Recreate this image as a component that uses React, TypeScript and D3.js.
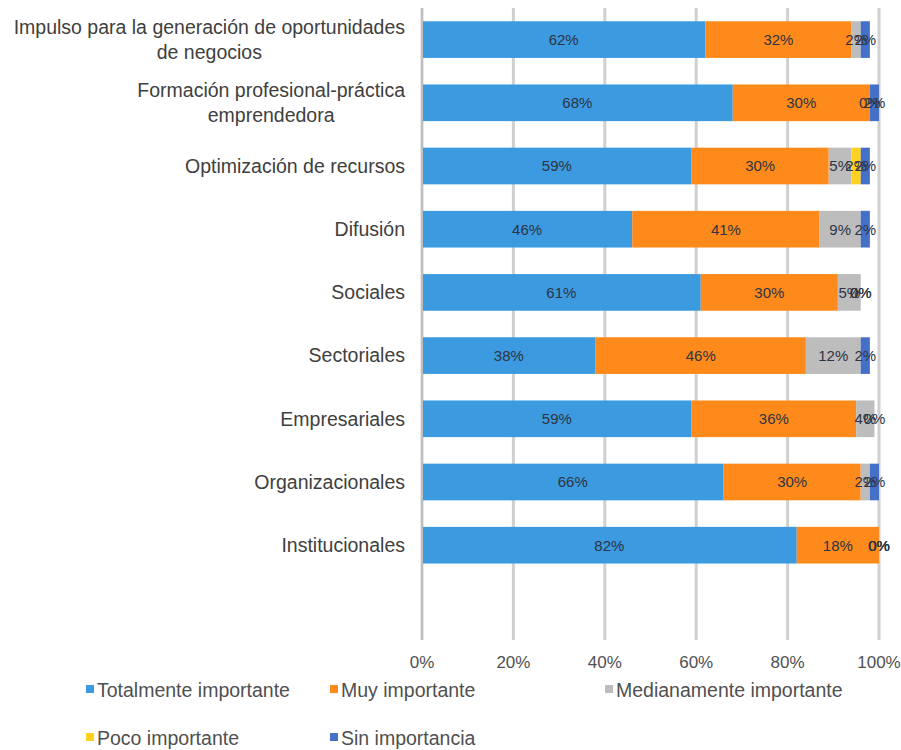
import React, { useEffect, useRef } from "react";
import * as d3 from "d3";

const categories: string[][] = [
  ["Impulso para la generación de oportunidades", "de negocios"],
  ["Formación profesional-práctica", "emprendedora"],
  ["Optimización de recursos"],
  ["Difusión"],
  ["Sociales"],
  ["Sectoriales"],
  ["Empresariales"],
  ["Organizacionales"],
  ["Institucionales"],
  [""],
];

const seriesNames = [
  "Totalmente importante",
  "Muy importante",
  "Medianamente importante",
  "Poco importante",
  "Sin importancia",
];

// null = empty cell (no bar, no label)
const totalmente: (number | null)[] = [62, 68, 59, 46, 61, 38, 59, 66, 82, null];
const muy: (number | null)[] = [32, 30, 30, 41, 30, 46, 36, 30, 18, null];
const mediana: (number | null)[] = [2, 0, 5, 9, 5, 12, 4, 2, 0, null];
const poco: (number | null)[] = [null, null, 2, null, 0, null, 0, null, 0, null];
const sin: (number | null)[] = [2, 2, 2, 2, 0, 2, null, 2, 0, null];

const tickValues = [0, 20, 40, 60, 80, 100];
const colors = ["#3C9AE0", "#FF8A1C", "#BDBDBD", "#FFD21F", "#4470C8"];

const FONT = "'Liberation Sans', Arial, sans-serif";

export default function App() {
  const ref = useRef<SVGSVGElement>(null);
  useEffect(() => {
    document.body.style.margin = "0";
    const svg = d3.select(ref.current);
    svg.selectAll("*").remove();
    const series = [totalmente, muy, mediana, poco, sin];
    const x0 = 422, x1 = 879, top = 8, bottom = 640;
    const x = d3.scaleLinear().domain([0, 100]).range([x0, x1]);
    const y = d3
      .scaleBand<number>()
      .domain(categories.map((_, i) => i))
      .range([top, bottom])
      .paddingInner(0.42)
      .paddingOuter(0.21);

    // grid
    svg
      .append("g")
      .selectAll("line")
      .data(tickValues)
      .join("line")
      .attr("x1", (d) => x(d))
      .attr("x2", (d) => x(d))
      .attr("y1", top)
      .attr("y2", bottom)
      .attr("stroke", "#D0D0D0")
      .attr("stroke-width", 3);

    // bars
    const gBars = svg.append("g");
    const labels: { x: number; y: number; t: string }[] = [];
    categories.forEach((_, ci) => {
      let acc = 0;
      series.forEach((s, si) => {
        const v = s[ci];
        if (v === null || v === undefined) return;
        const xs = x(acc), xe = x(acc + v);
        if (v > 0) {
          gBars
            .append("rect")
            .attr("x", xs)
            .attr("y", y(ci)!)
            .attr("width", xe - xs)
            .attr("height", y.bandwidth())
            .attr("fill", colors[si]);
        }
        labels.push({ x: (xs + xe) / 2, y: y(ci)! + y.bandwidth() / 2, t: v + "%" });
        acc += v;
      });
    });
    svg
      .append("g")
      .selectAll("text")
      .data(labels)
      .join("text")
      .attr("x", (d) => d.x)
      .attr("y", (d) => d.y)
      .attr("dy", "0.36em")
      .attr("text-anchor", "middle")
      .attr("font-family", FONT)
      .attr("font-size", 15)
      .attr("fill", "#2E3443")
      .text((d) => d.t);

    // y axis line
    svg
      .append("line")
      .attr("x1", x0)
      .attr("x2", x0)
      .attr("y1", top)
      .attr("y2", bottom)
      .attr("stroke", "#BFBFBF")
      .attr("stroke-width", 2);

    // category labels
    const gCat = svg.append("g");
    categories.forEach((lines, ci) => {
      const cy = y(ci)! + y.bandwidth() / 2;
      const t = gCat
        .append("text")
        .attr("font-family", FONT)
        .attr("font-size", 19.5)
        .attr("fill", "#404040")
        .attr("text-anchor", "middle");
      const lh = 25;
      const startY = cy - ((lines.length - 1) * lh) / 2;
      lines.forEach((ln, li) => {
        t.append("tspan")
          .attr("x", 0)
          .attr("y", startY + li * lh)
          .attr("dy", "0.35em")
          .text(ln);
      });
      let w = 0;
      t.selectAll<SVGTSpanElement, unknown>("tspan").each(function () {
        w = Math.max(w, this.getComputedTextLength());
      });
      const cx = 405 - w / 2;
      t.selectAll("tspan").attr("x", cx);
    });

    // x tick labels
    svg
      .append("g")
      .selectAll("text")
      .data(tickValues)
      .join("text")
      .attr("x", (d) => x(d))
      .attr("y", 662)
      .attr("dy", "0.35em")
      .attr("text-anchor", "middle")
      .attr("font-family", FONT)
      .attr("font-size", 17)
      .attr("fill", "#505050")
      .text((d) => d + "%");

    // legend
    const legendPos = [
      [86, 690],
      [330, 690],
      [605, 690],
      [86, 738],
      [330, 738],
    ];
    const gLeg = svg.append("g");
    seriesNames.forEach((n, i) => {
      const [lx, ly] = legendPos[i];
      gLeg
        .append("rect")
        .attr("x", lx)
        .attr("y", ly - 5)
        .attr("width", 8)
        .attr("height", 8)
        .attr("fill", colors[i]);
      gLeg
        .append("text")
        .attr("x", lx + 11)
        .attr("y", ly)
        .attr("dy", "0.35em")
        .attr("font-family", FONT)
        .attr("font-size", 19.5)
        .attr("fill", "#505050")
        .text(n);
    });
  }, []);
  return <svg ref={ref} width={901} height={750} style={{ display: "block", background: "#fff" }} />;
}
